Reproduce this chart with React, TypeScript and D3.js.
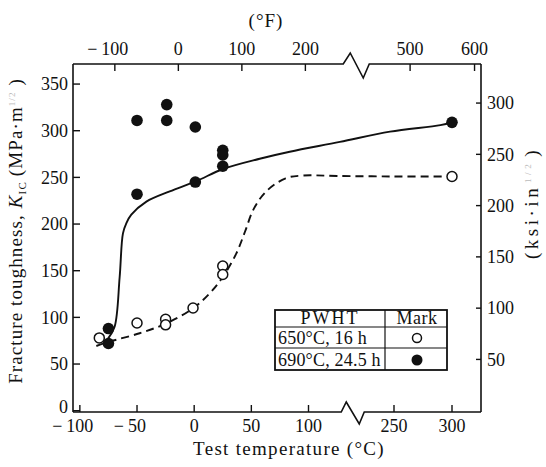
import React from 'react';
import * as d3 from 'd3';

const W = 546;
const H = 467;
const FONT = "'Liberation Serif', 'DejaVu Serif', 'Times New Roman', serif";

// Data (°C, MPa·m^1/2)
const openTemps = [-83, -50, -25, -25, -1, 25, 25, 300];
const openK = [78, 94, 98, 92, 110, 155, 146, 251];
const filledTemps = [-75, -75, -50, -50, -24, -24, 1, 1, 25, 25, 25, 300];
const filledK = [88, 72, 311, 232, 328, 311, 304, 245, 279, 274, 262, 309];

// Trend curves (690°C solid, 650°C dashed)
const solidT = [-75.5, -69.6, -65.2, -62.3, -59.3, -55, -41.8, -21.4, 1.9, 25.2, 57.3, 83.6, 155, 243, 290, 300];
const solidK = [77, 90, 143, 190, 201, 210, 224, 235, 246, 259, 270, 277.5, 288, 299, 306, 309];
const dashT = [-85.6, -74, -47.7, -24.3, -1, 13.6, 25.2, 36.9, 44.5, 52, 63, 80, 95, 150, 250, 295];
const dashK = [69.3, 74, 83, 93.6, 109.7, 125.8, 143.6, 168.6, 192, 216, 235, 249, 252, 251.5, 251, 251];

// Ticks
const bottomTicks = [-100, -50, 0, 50, 100, 250, 300];
const topTicksF = [-100, 0, 100, 200, 500, 600];
const leftTicks = [0, 50, 100, 150, 200, 250, 300, 350];
const rightTicksKsi = [50, 100, 150, 200, 250, 300];
const legendRows = ['650°C, 16 h', '690°C, 24.5 h'];

const KSI_TO_MPA = 1.0988;
const fToC = (f: number) => (f - 32) * 5 / 9;

export default function App() {
  // broken (piecewise) temperature scale
  const x = d3.scaleLinear().domain([-106, 100, 250, 325]).range([73, 308.5, 394, 481]);
  const y = d3.scaleLinear().domain([-1.4, 371.5]).range([412, 64]);
  const left = 73, right = 481, top = 64, bottom = 412;
  const topShift = 4.5;

  const line = d3.line<[number, number]>()
    .x(d => x(d[0]))
    .y(d => y(d[1]))
    .curve(d3.curveCatmullRom.alpha(0.5));
  const solidPath = line(solidT.map((t, i) => [t, solidK[i]]) as [number, number][]) || '';
  const dashPath = line(dashT.map((t, i) => [t, dashK[i]]) as [number, number][]) || '';

  const bx = x(175);
  const tx = bx + 5;
  const bottomFrame = `M${left},${bottom}H${bx - 10}L${bx - 5},${bottom - 10}L${bx + 8},${bottom + 12}L${bx + 13},${bottom}H${right}`;
  const topFrame = `M${left},${top}H${tx - 13}L${tx - 6},${top - 11}L${tx + 7},${top + 14}L${tx + 13},${top}H${right}`;

  const fs = 18;

  const numLabel = (v: number, cx: number, cy: number, key: string) => {
    const abs = Math.abs(v).toString();
    const half = abs.length * fs * 0.25;
    return (
      <g key={key}>
        <text x={cx} y={cy} textAnchor="middle">{abs}</text>
        {v < 0 && <text x={cx - half - 4} y={cy} textAnchor="end">−</text>}
      </g>
    );
  };

  return (
    <svg width={W} height={H} viewBox={`0 0 ${W} ${H}`}
      style={{ position: 'absolute', left: 0, top: 0, background: '#fff' }}
      fontFamily={FONT} fontSize={fs} fill="#111">
      <rect x={0} y={0} width={W} height={H} fill="#fff" />

      {/* frame */}
      <g fill="none" stroke="#111" strokeWidth={1.6}>
        <path d={topFrame} />
        <path d={bottomFrame} />
        <line x1={left} x2={left} y1={top} y2={bottom} />
        <line x1={right} x2={right} y1={top} y2={bottom} />
      </g>

      {/* bottom axis */}
      <g>
        {bottomTicks.map(t => (
          <line key={'bt' + t} x1={x(t)} x2={x(t)} y1={bottom} y2={bottom - 7} stroke="#111" strokeWidth={1.4} />
        ))}
        {bottomTicks.map(t => numLabel(t, x(t), 432, 'bl' + t))}
        <text x={289} y={455} textAnchor="middle" fontSize={19} letterSpacing={1.3}>Test temperature (°C)</text>
      </g>

      {/* top axis (°F) */}
      <g>
        {topTicksF.map(f => (
          <line key={'tt' + f} x1={x(fToC(f)) + topShift} x2={x(fToC(f)) + topShift} y1={top} y2={top + 7} stroke="#111" strokeWidth={1.4} />
        ))}
        {topTicksF.map(f => numLabel(f, x(fToC(f)) + topShift, 55, 'tl' + f))}
        <text x={266} y={27} textAnchor="middle" fontSize={19} letterSpacing={1}>(°F)</text>
      </g>

      {/* left axis */}
      <g>
        {leftTicks.map(v => (
          <line key={'lt' + v} x1={left} x2={left + 7} y1={y(v)} y2={y(v)} stroke="#111" strokeWidth={1.4} />
        ))}
        {leftTicks.map(v => (
          <text key={'ll' + v} x={68} y={y(v) + (v === 0 ? -4 : 0)} dy="0.35em" textAnchor="end">{v}</text>
        ))}
        <text transform="translate(22,231) rotate(-90)" textAnchor="middle" fontSize={19} letterSpacing={1.1}>
          Fracture toughness,
          <tspan fontStyle="italic" dx={6}>K</tspan>
          <tspan fontSize={11} dy={4}>IC</tspan>
          <tspan dy={-4} dx={5}>(MPa·m</tspan>
          <tspan fontSize={9} dy={-7} fill="#bbb">1/2</tspan>
          <tspan dy={7}> )</tspan>
        </text>
      </g>

      {/* right axis (ksi·in^1/2) */}
      <g>
        {rightTicksKsi.map(v => (
          <line key={'rt' + v} x1={right} x2={right - 5} y1={y(v * KSI_TO_MPA)} y2={y(v * KSI_TO_MPA)} stroke="#111" strokeWidth={1.4} />
        ))}
        {rightTicksKsi.map(v => (
          <text key={'rl' + v} x={487} y={y(v * KSI_TO_MPA)} dy="0.35em" textAnchor="start">{v}</text>
        ))}
        <text transform="translate(538,203) rotate(-90)" textAnchor="middle" fontSize={19} letterSpacing={3.5}>
          (ksi·in
          <tspan fontSize={9} dy={-7} dx={2} fill="#bbb">1/2</tspan>
          <tspan dy={7} dx={4}>)</tspan>
        </text>
      </g>

      {/* curves */}
      <path d={dashPath} fill="none" stroke="#111" strokeWidth={1.9} strokeDasharray="8 5" />
      <path d={solidPath} fill="none" stroke="#111" strokeWidth={1.9} />

      {/* points */}
      {openTemps.map((t, i) => (
        <circle key={'o' + i} cx={x(t)} cy={y(openK[i])} r={5} fill="#fff" stroke="#111" strokeWidth={1.5} />
      ))}
      {filledTemps.map((t, i) => (
        <circle key={'f' + i} cx={x(t)} cy={y(filledK[i])} r={5.8} fill="#111" />
      ))}

      {/* legend table */}
      <g>
        <rect x={275} y={310} width={172} height={60} fill="#fff" stroke="#111" strokeWidth={1.8} />
        <line x1={275} x2={447} y1={327} y2={327} stroke="#111" strokeWidth={1.2} />
        <line x1={275} x2={447} y1={348} y2={348} stroke="#111" strokeWidth={1.2} />
        <line x1={385} x2={385} y1={310} y2={370} stroke="#111" strokeWidth={1.2} />
        <text x={330} y={324} textAnchor="middle" letterSpacing={2}>PWHT</text>
        <text x={417} y={324} textAnchor="middle" letterSpacing={0.5}>Mark</text>
        {legendRows.map((r, i) => (
          <text key={'lr' + i} x={278} y={344 + i * 21.5} letterSpacing={0.2}>{r}</text>
        ))}
        <circle cx={417} cy={338} r={4.5} fill="#fff" stroke="#111" strokeWidth={1.5} />
        <circle cx={417} cy={360} r={5.5} fill="#111" />
      </g>
    </svg>
  );
}
